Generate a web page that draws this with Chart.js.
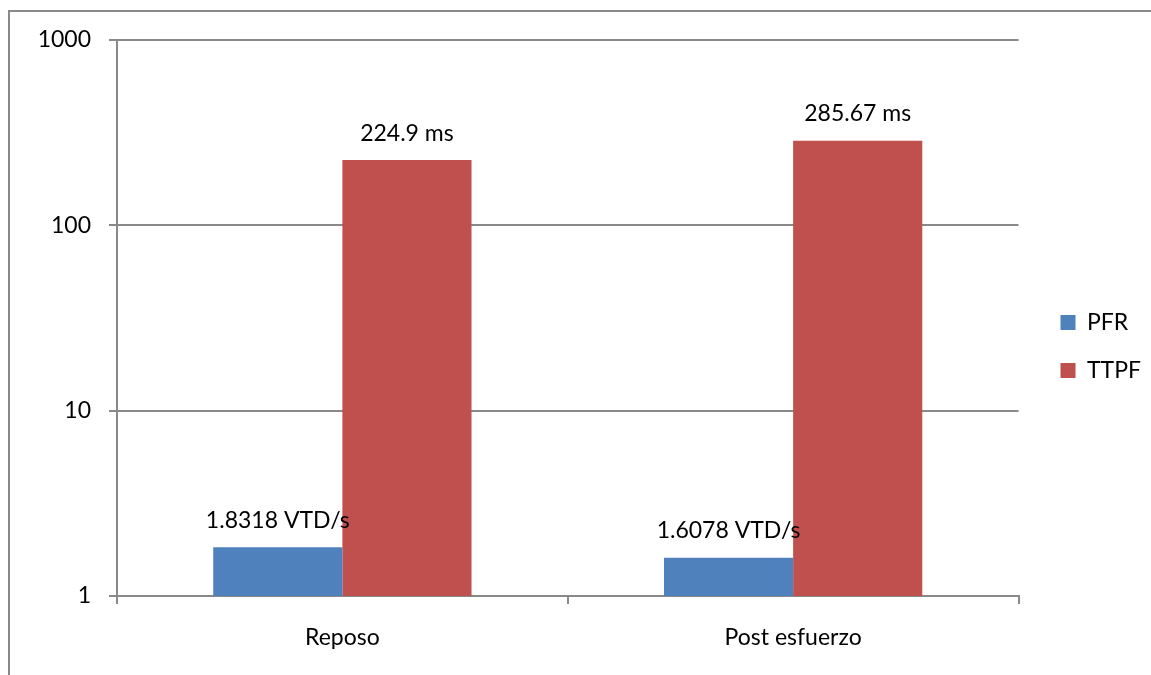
<!DOCTYPE html>
<html>
<head>
<meta charset="utf-8">
<script src="https://cdn.jsdelivr.net/npm/chart.js@4.4.1/dist/chart.umd.js"></script>
<style>
  html, body { margin: 0; padding: 0; background: #fff; }
  #wrap { width: 1151px; height: 675px; }
</style>
</head>
<body>
<div id="wrap"><canvas id="chart" width="1151" height="675"></canvas></div>
<script>
const categories = ['Reposo', 'Post esfuerzo'];
const pfrValues = [1.8318, 1.6078];
const ttpfValues = [224.9, 285.67];
const pfrUnit = 'VTD/s';
const ttpfUnit = 'ms';
const yTicks = [1, 10, 100, 1000];

const FONT = "Lato, 'Open Sans', sans-serif";
const FSIZE = 23;
const GRID = '#898989';

// marco exterior del gráfico
const frame = {
  id: 'frame',
  beforeDraw(chart) {
    const ctx = chart.ctx;
    ctx.save();
    ctx.strokeStyle = GRID;
    ctx.lineWidth = 2;
    ctx.beginPath();
    ctx.moveTo(9, chart.height);
    ctx.lineTo(9, 11);
    ctx.lineTo(chart.width, 11);
    ctx.stroke();
    ctx.restore();
  }
};

// etiquetas de valor encima de cada barra
const units = [pfrUnit, ttpfUnit];
const valueLabels = {
  id: 'valueLabels',
  afterDatasetsDraw(chart) {
    const ctx = chart.ctx;
    ctx.save();
    ctx.font = `${FSIZE}px ${FONT}`;
    ctx.fillStyle = '#000';
    ctx.textAlign = 'center';
    ctx.textBaseline = 'middle';
    chart.data.datasets.forEach((ds, i) => {
      chart.getDatasetMeta(i).data.forEach((bar, j) => {
        ctx.fillText(`${ds.data[j]} ${units[i]}`, bar.x, bar.y - 27);
      });
    });
    ctx.restore();
  }
};

new Chart(document.getElementById('chart'), {
  type: 'bar',
  data: {
    labels: categories,
    datasets: [
      { label: 'PFR', data: pfrValues, backgroundColor: '#4F81BD', yAxisID: 'y' },
      { label: 'TTPF', data: ttpfValues, backgroundColor: '#C0504D', yAxisID: 'y' }
    ]
  },
  options: {
    responsive: false,
    animation: false,
    barPercentage: 1,
    categoryPercentage: 0.573,
    layout: { padding: { top: 40, bottom: 22, left: 0, right: 0 } },
    plugins: {
      tooltip: { enabled: false },
      legend: {
        position: 'right',
        labels: {
          boxWidth: 15,
          boxHeight: 15,
          padding: 25,
          color: '#000',
          font: { family: FONT, size: FSIZE }
        }
      }
    },
    scales: {
      x: {
        grid: { offset: true, drawOnChartArea: false, color: GRID, lineWidth: 2, tickLength: 8 },
        border: { color: GRID, width: 2 },
        ticks: { color: '#000', padding: 20, font: { family: FONT, size: FSIZE } },
        afterFit(scale) { scale.height = 57; }
      },
      y: {
        type: 'logarithmic',
        min: 1,
        max: 1000,
        afterBuildTicks(scale) { scale.ticks = yTicks.map(v => ({ value: v })); },
        grid: { color: GRID, lineWidth: 2, tickLength: 8 },
        border: { color: GRID, width: 2 },
        ticks: { color: '#000', padding: 18, font: { family: FONT, size: FSIZE }, callback: v => String(v) },
        afterFit(scale) { scale.width = 117; }
      },
      gap: {
        position: 'right',
        type: 'linear',
        min: 0,
        max: 1,
        grid: { display: false },
        border: { display: false },
        ticks: { display: false },
        afterFit(scale) { scale.width = 17; }
      }
    }
  },
  plugins: [frame, valueLabels]
});
</script>
</body>
</html>
